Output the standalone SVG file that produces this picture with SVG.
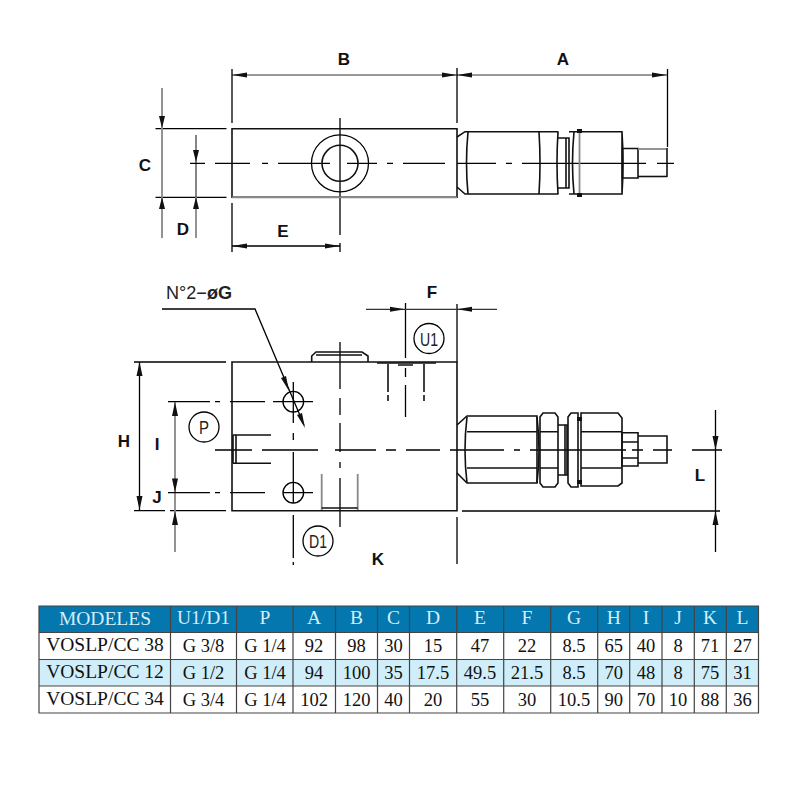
<svg xmlns="http://www.w3.org/2000/svg" width="800" height="800" viewBox="0 0 800 800">
<style>
.l{fill:none;stroke:#000;stroke-width:1.3}
.t{fill:none;stroke:#111;stroke-width:1.6}
.g{fill:none;stroke:#888;stroke-width:1.8}
.dim{fill:none;stroke:#333;stroke-width:1.2}
.ah{fill:#111}
.b{font:bold 17px "Liberation Sans",Arial,sans-serif;fill:#111;text-anchor:middle}
.n{font:19px "Liberation Sans",Arial,sans-serif;fill:#222;text-anchor:middle}
.h{font:19.500px "Liberation Serif","Times New Roman",serif;fill:#d4eef8;text-anchor:middle}
.v{font:18.500px "Liberation Serif","Times New Roman",serif;fill:#111;text-anchor:middle}
.m{font:19.500px "Liberation Serif","Times New Roman",serif;fill:#111;text-anchor:middle}
.grid{fill:none;stroke:#444;stroke-width:1.2}
</style>
<rect width="800" height="800" fill="#fff"/>

<g id="connectors">
<path class="dim" d="M232 75H667"/>
<path class="ah" d="M232 75l15-2.500v5zM457 75l-15-2.500v5zM457 75l15-2.500v5zM667 75l-15-2.500v5z"/>
<path class="l" d="M232 69V123M232 203V252M457 68V123M667.500 69V147"/>
<path class="l" d="M155.500 128.700H226.500M155.500 197.300H226.500"/>
<path class="g" d="M162 88V238M196 197V238"/>
<path class="dim" d="M196 135V197"/>
<path class="ah" d="M162 128l-3-12h6zM162 197l-3 12h6zM196 162l-3-12h6zM196 197l-3 12h6z"/>
<path class="l" d="M232 246H340M340 243V252"/>
<path class="ah" d="M232 246l15-2.500v5zM340 246l-15-2.500v5z"/>
<path class="l" d="M340 118V235"/>
<path class="l" d="M190 163.300H205M215 163.300H250M262 163.300H268M278 163.300H330M347 163.300H377M387 163.300H393M403 163.300H445M457 163.300H496M506 163.300H512M522 163.300H646M657 163.300H674"/>

<path class="l" d="M162 309H255L304 425"/>
<path class="ah" d="M289 391l-8-13 5-2zM305 428l-8-13 5-2z"/>
<path class="l" d="M134 362H226M134 510.700H165M170 510.700H226"/>
<path class="l" d="M139.500 362V510"/>
<path class="ah" d="M139.500 362l-3 14h6zM139.500 510l-3-14h6z"/>
<path class="g" d="M175 402V552"/>
<path class="ah" d="M175 402l-3 14h6zM175 492.500l-3-14h6zM175 511l-3 14h6z"/>
<path class="l" d="M168 401.700H210M215 401.700H220M230 401.700H265M273 401.700H313M168 492.700H210M215 492.700H220M230 492.700H265M283 492.700H313"/>
<path class="l" d="M293.300 382V423M293.300 433V440M293.300 452V503M293.300 515V558M293.300 562V565"/>
<path class="l" d="M340 342V389M340 398V415M340 423V452M340 462V468M340 478V527"/>
<path class="l" d="M405.500 303V358M405.500 368V377M405.500 385V417"/>
<path class="l" d="M457 304V362M457 517V564"/>
<path class="dim" d="M366 309.300H497"/>
<path class="ah" d="M405 309.300l-15-2.500v5zM457 309.300l15-2.500v5z"/>
<path class="l" d="M215 450H252M262 450H318M335 450H376M386 450H396M406 450H440M450 450H504M514 450H520M530 450H626M632 450H643M653 450H672M692 450H698M698 450H722"/>
<path class="l" d="M462 511H720M715.500 410V552"/>
<path class="ah" d="M715.500 450l-3-14h6zM715.500 511l-3 14h6z"/>
</g>

<g id="top-body">
<path class="t" d="M232 128.700H457V197.300H232Z"/>
<path class="g" d="M232 197.300H457"/>
<circle class="l" cx="340" cy="163.300" r="28.500"/>
<circle class="t" cx="340" cy="163.300" r="18" stroke-width="2.500"/>
</g>

<g id="top-cartridge">
<path class="t" d="M457 137L465 131.700H558.500M457 187L465 194H558.500"/>
<path class="t" d="M468 132Q465 163 468 194M539 132Q541 163 539 194M558 132Q556 163 558 194"/>
<path class="t" d="M558 138H566V188H558M566 138H569V188H566"/>
<path class="t" d="M569 131.700H622V194H569M574 132Q571 163 574 194M622 132Q624 163 622 194"/>
<path class="g" d="M579.500 132V194" stroke-width="3"/>
<rect x="577" y="129" width="5" height="4" fill="#111"/>
<rect x="577" y="193" width="5" height="4" fill="#111"/>
<path class="t" d="M622.500 148.500H638V178H622.500Z"/>
<path class="t" d="M638 176.500H667"/>
<path class="g" d="M638 149H666"/>
<path class="t" d="M667 148V177" stroke-width="2.500"/>
</g>

<g id="front-body">
<path class="t" d="M232 362H457V510.700H232Z"/>
<path class="t" d="M311.700 362V356L316 352H362L368 356V362M316 355H362"/>
<path class="t" d="M377 363H436M388 364V392M388 395V401M424 364V392M424 395V401M398 365H413"/>
<circle class="l" cx="293.300" cy="401.700" r="10.300"/>
<circle class="l" cx="293.300" cy="492.700" r="10.300"/>
<path class="t" d="M233 435H261M233 463.300H261M233 435V463.300M236 435V463.300M261 435H271M261 463.300H271"/>
<path class="g" d="M321.700 474V510M357.700 474V510"/>
<path class="t" d="M321.700 508H357.700"/>
</g>

<g id="front-cartridge">
<path class="t" d="M457 425L467 416H537V483H467L457 473M467 431.700H537M467 468H537"/>
<path class="t" d="M467 417Q463 450 467 483M537 417Q541 450 537 483"/>
<path class="t" d="M540 417L543 413H555L558 417V483L555 487H543L540 483ZM540 431.700H558M540 468H558"/>
<path class="t" d="M558 425H567V475H558M565 425V475"/>
<path class="t" d="M568 417L571 413H578V487H571L568 483ZM581 413H618L622 418V483L618 486H581ZM581 431.700H622M581 468H622"/>
<rect x="577" y="417" width="5" height="4" fill="#111"/>
<rect x="577" y="480" width="5" height="4" fill="#111"/>
<path class="t" d="M622 432.700H638V466H622ZM622 442H638M622 458H638"/>
<path class="t" d="M638 436H667V463H638" stroke-width="1.800"/>
</g>

<g id="labels">
<text class="b" x="344" y="65">B</text>
<text class="b" x="563" y="65">A</text>
<text class="b" x="145" y="171">C</text>
<text class="b" x="183" y="235">D</text>
<text class="b" x="283" y="237">E</text>
<text x="166" y="299" font-family="Liberation Sans,Arial,sans-serif" font-size="18" fill="#222" textLength="66" lengthAdjust="spacingAndGlyphs">N°2−<tspan font-weight="bold">øG</tspan></text>
<text class="b" x="432" y="298">F</text>
<text class="b" x="124" y="447">H</text>
<text class="b" x="157" y="450">I</text>
<text class="b" x="157" y="503">J</text>
<text class="b" x="378" y="565">K</text>
<text class="b" x="700" y="481">L</text>
</g>
<g id="bubble-u1"><circle class="l" cx="429" cy="338.500" r="15"/><text class="n" x="429" y="345.500" textLength="18" lengthAdjust="spacingAndGlyphs">U1</text></g>
<g id="bubble-p"><circle class="l" cx="204" cy="427" r="15"/><text class="n" x="204" y="434" textLength="10" lengthAdjust="spacingAndGlyphs">P</text></g>
<g id="bubble-d1"><circle class="l" cx="318" cy="541" r="15"/><text class="n" x="318" y="548" textLength="18" lengthAdjust="spacingAndGlyphs">D1</text></g>

<g id="table">
<rect x="39" y="606" width="719.500" height="26.500" fill="#0477ae"/>
<rect x="39" y="659.500" width="719.500" height="26.500" fill="#cfeefa"/>
<path class="grid" d="M39 606H758.500V713H39ZM39 632.500H758.500M39 659.500H758.500M39 686H758.500M170.500 606V713M236.500 606V713M293 606V713M335.500 606V713M377.500 606V713M409.500 606V713M456.700 606V713M503.700 606V713M550.700 606V713M597.700 606V713M629.700 606V713M662 606V713M694.300 606V713M726.300 606V713"/>
<text class="h" x="105" y="625">MODELES</text><text class="h" x="203.500" y="624">U1/D1</text><text class="h" x="265" y="624">P</text><text class="h" x="314" y="624">A</text><text class="h" x="356.500" y="624">B</text><text class="h" x="393.500" y="624">C</text><text class="h" x="433" y="624">D</text><text class="h" x="480" y="624">E</text><text class="h" x="527" y="624">F</text><text class="h" x="574" y="624">G</text><text class="h" x="613.700" y="624">H</text><text class="h" x="646" y="624">I</text><text class="h" x="678" y="624">J</text><text class="h" x="710" y="624">K</text><text class="h" x="742.500" y="624">L</text>
<text class="m" x="105" y="651">VOSLP/CC 38</text><text class="v" x="203.500" y="652">G 3/8</text><text class="v" x="265" y="652">G 1/4</text><text class="v" x="314" y="652">92</text><text class="v" x="356.500" y="652">98</text><text class="v" x="393.500" y="652">30</text><text class="v" x="433" y="652">15</text><text class="v" x="480" y="652">47</text><text class="v" x="527" y="652">22</text><text class="v" x="574" y="652">8.5</text><text class="v" x="613.700" y="652">65</text><text class="v" x="646" y="652">40</text><text class="v" x="678" y="652">8</text><text class="v" x="710" y="652">71</text><text class="v" x="742.500" y="652">27</text>
<text class="m" x="105" y="678">VOSLP/CC 12</text><text class="v" x="203.500" y="679">G 1/2</text><text class="v" x="265" y="679">G 1/4</text><text class="v" x="314" y="679">94</text><text class="v" x="356.500" y="679">100</text><text class="v" x="393.500" y="679">35</text><text class="v" x="433" y="679">17.5</text><text class="v" x="480" y="679">49.5</text><text class="v" x="527" y="679">21.5</text><text class="v" x="574" y="679">8.5</text><text class="v" x="613.700" y="679">70</text><text class="v" x="646" y="679">48</text><text class="v" x="678" y="679">8</text><text class="v" x="710" y="679">75</text><text class="v" x="742.500" y="679">31</text>
<text class="m" x="105" y="705">VOSLP/CC 34</text><text class="v" x="203.500" y="706">G 3/4</text><text class="v" x="265" y="706">G 1/4</text><text class="v" x="314" y="706">102</text><text class="v" x="356.500" y="706">120</text><text class="v" x="393.500" y="706">40</text><text class="v" x="433" y="706">20</text><text class="v" x="480" y="706">55</text><text class="v" x="527" y="706">30</text><text class="v" x="574" y="706">10.5</text><text class="v" x="613.700" y="706">90</text><text class="v" x="646" y="706">70</text><text class="v" x="678" y="706">10</text><text class="v" x="710" y="706">88</text><text class="v" x="742.500" y="706">36</text>
</g>
</svg>
